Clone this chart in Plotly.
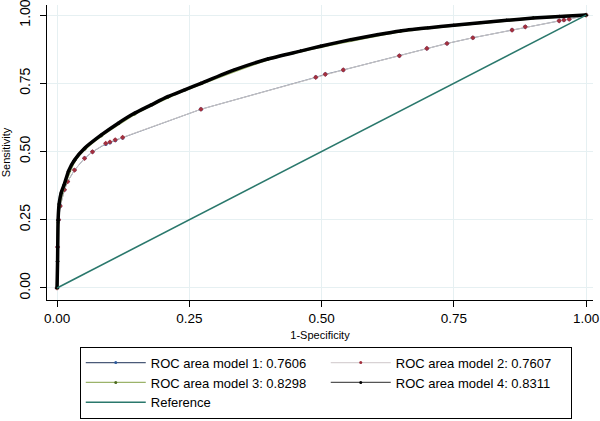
import plotly.graph_objects as go

# Model 4 (black) ROC points
m4_x = [0, 0.001, 0.002, 0.004, 0.008, 0.014, 0.022, 0.033, 0.052, 0.083, 0.115, 0.146, 0.177, 0.209, 0.24, 0.272, 0.335, 0.398, 0.46, 0.498, 0.555, 0.605, 0.649, 0.7, 0.75, 0.8, 0.85, 0.9, 0.95, 1.0]
m4_y = [0, 0.1, 0.25, 0.31, 0.35, 0.382, 0.43, 0.469, 0.512, 0.56, 0.603, 0.64, 0.67, 0.701, 0.725, 0.75, 0.799, 0.839, 0.868, 0.886, 0.910, 0.928, 0.942, 0.953, 0.963, 0.972, 0.981, 0.989, 0.995, 1.0]

# Model 3 (green) ROC points
m3_x = [0, 0.001, 0.002, 0.004, 0.014, 0.033, 0.052, 0.083, 0.146, 0.209, 0.272, 0.398, 0.498, 0.649, 0.75, 0.9, 1.0]
m3_y = [0, 0.1, 0.24, 0.30, 0.378, 0.465, 0.508, 0.557, 0.637, 0.698, 0.748, 0.837, 0.884, 0.941, 0.962, 0.989, 1.0]

# Model 1 / Model 2 ROC points
m12_x = [0, 0.001, 0.003, 0.006, 0.014, 0.02, 0.033, 0.052, 0.067, 0.092, 0.1, 0.11, 0.124, 0.272, 0.489, 0.507, 0.541, 0.647, 0.699, 0.737, 0.786, 0.86, 0.885, 0.949, 0.958, 0.968, 1.0]
m1_y = [0, 0.15, 0.25, 0.30, 0.36, 0.39, 0.432, 0.475, 0.499, 0.528, 0.533, 0.541, 0.551, 0.655, 0.772, 0.783, 0.799, 0.851, 0.878, 0.896, 0.917, 0.945, 0.957, 0.979, 0.982, 0.985, 1.0]
m2_y = [0, 0.15, 0.25, 0.30, 0.36, 0.39, 0.432, 0.475, 0.499, 0.530, 0.535, 0.543, 0.552, 0.655, 0.772, 0.783, 0.799, 0.851, 0.878, 0.896, 0.917, 0.945, 0.957, 0.979, 0.982, 0.985, 1.0]

ref_x = [0, 1]
ref_y = [0, 1]

names = ["ROC area model 1: 0.7606", "ROC area model 2: 0.7607",
         "ROC area model 3: 0.8298", "ROC area model 4: 0.8311", "Reference"]

x_ticks = [0, 0.25, 0.5, 0.75, 1.0]
y_ticks = [0, 0.25, 0.5, 0.75, 1.0]
tick_text = ["0.00", "0.25", "0.50", "0.75", "1.00"]

line_colors = ["#4a5a78", "#d8d2d4", "#9bb36a", "#555555", "#2a786c"]
marker_colors = ["#2c5a9c", "#a3303e", "#4d6b20", "#000000", None]

fig = go.Figure()
# data traces (no legend)
fig.add_trace(go.Scatter(x=m12_x, y=m1_y, mode="lines+markers", showlegend=False,
                         line=dict(color=line_colors[0], width=0.8),
                         marker=dict(color=marker_colors[0], size=4, symbol="circle")))
fig.add_trace(go.Scatter(x=m12_x, y=m2_y, mode="lines+markers", showlegend=False,
                         line=dict(color="#c9c6c7", width=1),
                         marker=dict(color=marker_colors[1], size=4, symbol="diamond")))
fig.add_trace(go.Scatter(x=m3_x, y=m3_y, mode="lines+markers", showlegend=False,
                         line=dict(color=line_colors[2], width=2.5, shape="spline", smoothing=0.5),
                         marker=dict(color=marker_colors[2], size=3)))
fig.add_trace(go.Scatter(x=m4_x, y=m4_y, mode="lines+markers", showlegend=False,
                         line=dict(color="#000000", width=3.5, shape="spline", smoothing=0.5),
                         marker=dict(color="#000000", size=4, symbol="triangle-up")))
fig.add_trace(go.Scatter(x=ref_x, y=ref_y, mode="lines", showlegend=False,
                         line=dict(color=line_colors[4], width=1.6)))

# legend-only entries (thin lines, small dots)
for i, nm in enumerate(names):
    if marker_colors[i] is None:
        fig.add_trace(go.Scatter(x=[None], y=[None], name=nm, mode="lines",
                                 line=dict(color=line_colors[i], width=1.5)))
    else:
        fig.add_trace(go.Scatter(x=[None], y=[None], name=nm, mode="lines+markers",
                                 line=dict(color=line_colors[i], width=1.2),
                                 marker=dict(color=marker_colors[i], size=3)))

fig.update_layout(
    width=600, height=421,
    margin=dict(l=47, r=7, t=5, b=121, autoexpand=False),
    paper_bgcolor="white", plot_bgcolor="white",
    font=dict(family="Liberation Sans, Arial, sans-serif", color="#000000"),
    showlegend=True,
    legend=dict(orientation="h", x=0.06, y=-0.158, xanchor="left", yanchor="top",
                entrywidth=170, entrywidthmode="pixels",
                bordercolor="#000000", borderwidth=1, bgcolor="white",
                font=dict(size=13), itemwidth=60, traceorder="normal"),
    xaxis=dict(range=[-0.019, 1.013], tickvals=x_ticks, ticktext=tick_text,
               showgrid=True, gridcolor="#e6f0f2", gridwidth=1, zeroline=False,
               showline=True, linecolor="#000000", linewidth=1,
               ticks="outside", ticklen=6, tickcolor="#000000",
               tickfont=dict(size=13.5), ticklabeloverflow="allow",
               title=dict(text="1-Specificity", font=dict(size=11), standoff=6)),
    yaxis=dict(range=[-0.044, 1.037], tickvals=y_ticks, ticktext=tick_text,
               showgrid=True, gridcolor="#e6f0f2", gridwidth=1, zeroline=False,
               showline=True, linecolor="#000000", linewidth=1,
               ticks="outside", ticklen=6, tickcolor="#000000",
               tickangle=-90, tickfont=dict(size=14), ticklabelstandoff=4,
               ticklabeloverflow="allow",
               title=dict(text="Sensitivity", font=dict(size=11), standoff=8)),
)

fig.write_html("out.html", config={"displayModeBar": False},
               post_script="document.body.style.margin='0px';")
